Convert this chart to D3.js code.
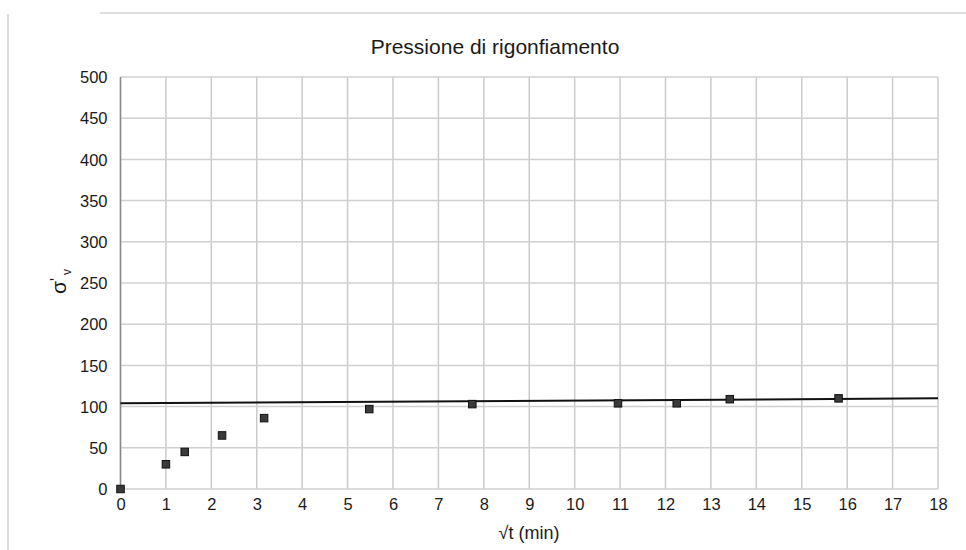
<!DOCTYPE html>
<html>
<head>
<meta charset="utf-8">
<script src="https://cdn.jsdelivr.net/npm/d3@7/dist/d3.min.js"></script>
<style>
  html, body { margin: 0; padding: 0; background: #ffffff; }
  svg { display: block; }
  text { font-family: "Liberation Sans", Arial, sans-serif; fill: #1a1a1a; }
</style>
</head>
<body>
<script>
// ---- data ----
const sqrtTime = [0, 1, 1.414, 2.236, 3.162, 5.477, 7.746, 10.954, 12.247, 13.416, 15.811];
const sigmaV   = [0, 30, 45, 65, 86, 97, 103, 104, 104, 109, 110];
const trendX   = [0, 18];
const trendY   = [104, 110];
const xTicks   = [0,1,2,3,4,5,6,7,8,9,10,11,12,13,14,15,16,17,18];
const yTicks   = [0,50,100,150,200,250,300,350,400,450,500];
const title    = "Pressione di rigonfiamento";
const xLabel   = "√t (min)";

const W = 966, H = 550;
const svg = d3.select("body").append("svg").attr("width", W).attr("height", H);

// scan frame fragments
svg.append("line").attr("x1", 100).attr("x2", 966).attr("y1", 13).attr("y2", 13)
  .attr("stroke", "#d4d4d4").attr("stroke-width", 1.5);
svg.append("line").attr("x1", 8).attr("x2", 8).attr("y1", 14).attr("y2", 550)
  .attr("stroke", "#cfcfcf").attr("stroke-width", 1.5);

const x = d3.scaleLinear().domain([0, 18]).range([120.5, 938]);
const y = d3.scaleLinear().domain([0, 500]).range([489, 77]);

// grid
const grid = svg.append("g");
grid.selectAll("line.v").data(xTicks).join("line")
  .attr("x1", d => x(d)).attr("x2", d => x(d)).attr("y1", y(500)).attr("y2", y(0))
  .attr("stroke", "#cbcbcb").attr("stroke-width", 1.5);
grid.selectAll("line.h").data(yTicks).join("line")
  .attr("x1", x(0)).attr("x2", x(18)).attr("y1", d => y(d)).attr("y2", d => y(d))
  .attr("stroke", "#d0d0d0").attr("stroke-width", 1.5);
// left axis line
svg.append("line").attr("x1", x(0)).attr("x2", x(0)).attr("y1", y(500)).attr("y2", y(0))
  .attr("stroke", "#8a8a8a").attr("stroke-width", 1.5);

const fam = "'Liberation Sans', Arial, sans-serif";
// axes labels via d3 axes
const xAxis = svg.append("g").attr("transform", `translate(0,${y(0)})`)
  .call(d3.axisBottom(x).tickValues(xTicks).tickSize(0).tickPadding(9).tickFormat(d3.format("d")));
xAxis.select(".domain").remove();
xAxis.attr("font-size", null);
xAxis.selectAll("text").style("font-size", "16.5px").style("font-family", fam).attr("fill", "#1a1a1a");

const yAxis = svg.append("g").attr("transform", `translate(${x(0)},0)`)
  .call(d3.axisLeft(y).tickValues(yTicks).tickSize(0).tickPadding(13).tickFormat(d3.format("d")));
yAxis.select(".domain").remove();
yAxis.attr("font-size", null);
yAxis.selectAll("text").style("font-size", "16.5px").attr("dy", "0.35em").style("font-family", fam).attr("fill", "#1a1a1a");

// trend line
svg.append("line")
  .attr("x1", x(trendX[0])).attr("y1", y(trendY[0]))
  .attr("x2", x(trendX[1])).attr("y2", y(trendY[1]))
  .attr("stroke", "#111").attr("stroke-width", 2);

// markers
const s = 7.5;
svg.append("g").selectAll("rect").data(sqrtTime.map((t, i) => [t, sigmaV[i]])).join("rect")
  .attr("x", d => x(d[0]) - s / 2).attr("y", d => y(d[1]) - s / 2)
  .attr("width", s).attr("height", s)
  .attr("fill", "#3a3a3a").attr("stroke", "#111").attr("stroke-width", 1);

// title
svg.append("text").attr("x", 495).attr("y", 54).attr("text-anchor", "middle")
  .attr("font-size", 21).text(title);

// x label
svg.append("text").attr("x", 529).attr("y", 539).attr("text-anchor", "middle")
  .attr("font-size", 18).text(xLabel);

// y label σ'v rotated
const yl = svg.append("text").attr("transform", "translate(66,294) rotate(-90)")
  .attr("text-anchor", "start").attr("font-size", 21);
yl.append("tspan").text("σ");
yl.append("tspan").attr("font-size", 16).attr("dy", -4).text("'");
yl.append("tspan").attr("font-size", 12).attr("dx", 3).attr("dy", 9).text("v");
</script>
</body>
</html>
